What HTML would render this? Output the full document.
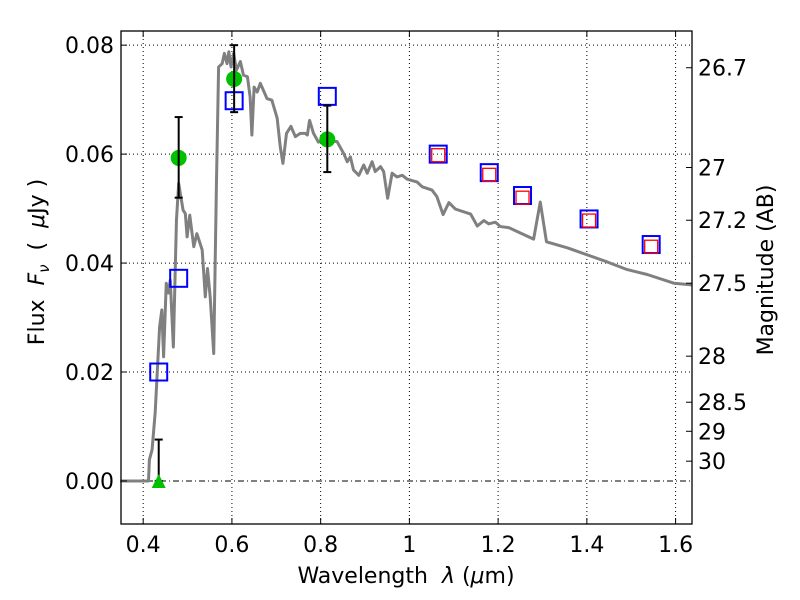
<!DOCTYPE html>
<html><head><meta charset="utf-8"><style>
html,body{margin:0;padding:0;background:#fff;}
svg{display:block;font-family:"DejaVu Sans","Liberation Sans",sans-serif;}
</style></head><body>
<svg id="chart" width="800" height="600" viewBox="0 0 800 600" xmlns="http://www.w3.org/2000/svg">
<rect width="800" height="600" fill="#fff"/>
<g id="grid"></g>
<g id="series"></g>
<g id="axes"></g>
<text x="406" y="583" font-size="22" text-anchor="middle" xml:space="preserve">Wavelength  <tspan font-style="italic">λ</tspan> (<tspan font-style="italic">μ</tspan>m)</text>
<text transform="translate(44,262) rotate(-90)" font-size="22" text-anchor="middle" xml:space="preserve">Flux  <tspan font-style="italic">F</tspan><tspan font-style="italic" font-size="15" dy="5">ν</tspan><tspan dy="-5">  (  </tspan><tspan font-style="italic">μ</tspan>Jy )</text>
<text transform="translate(773,270) rotate(-90)" font-size="22" text-anchor="middle">Magnitude (AB)</text>
</svg>
<script>
const specWave=[0.348,0.412,0.414,0.420,0.427,0.437,0.442,0.446,0.452,0.457,0.461,0.468,0.475,0.480,0.490,0.495,0.499,0.505,0.514,0.521,0.533,0.540,0.545,0.551,0.559,0.565,0.570,0.578,0.583,0.589,0.593,0.598,0.604,0.610,0.619,0.626,0.635,0.641,0.645,0.650,0.657,0.664,0.671,0.679,0.690,0.702,0.709,0.715,0.723,0.733,0.743,0.754,0.765,0.770,0.775,0.784,0.795,0.807,0.837,0.852,0.860,0.867,0.874,0.886,0.897,0.905,0.916,0.923,0.935,0.942,0.951,0.961,0.972,0.984,0.995,1.017,1.029,1.051,1.062,1.076,1.089,1.104,1.138,1.153,1.168,1.179,1.194,1.205,1.224,1.280,1.295,1.309,1.356,1.401,1.446,1.491,1.536,1.596,1.637];
const specFlux=[0,0,0.0039,0.0057,0.0125,0.0283,0.0314,0.0228,0.0363,0.0345,0.0369,0.0246,0.0479,0.0546,0.0497,0.0491,0.0448,0.0488,0.0430,0.0454,0.0424,0.0338,0.0390,0.0338,0.0234,0.054,0.0760,0.0766,0.0785,0.0766,0.0788,0.0760,0.0785,0.0754,0.0770,0.0745,0.0742,0.0705,0.0635,0.0723,0.0714,0.0730,0.0717,0.0702,0.0699,0.0666,0.0613,0.0583,0.0638,0.0651,0.0632,0.0638,0.0638,0.0635,0.0662,0.0638,0.0622,0.0626,0.0623,0.0601,0.0586,0.0595,0.0571,0.0561,0.0580,0.0565,0.0586,0.0568,0.0577,0.0568,0.0519,0.0565,0.0558,0.0561,0.0554,0.0549,0.0540,0.0534,0.0522,0.0489,0.0511,0.0499,0.0490,0.0468,0.0478,0.0472,0.0475,0.0467,0.0465,0.0444,0.0512,0.0439,0.0428,0.0415,0.0402,0.0388,0.0379,0.0363,0.0360];
const obsWave=[0.48,0.605,0.815];
const obsFlux=[0.0593,0.0738,0.0627];
const obsLo=[0.0520,0.0677,0.0567];
const obsHi=[0.0668,0.0800,0.0689];
const limWave=[0.435];
const limFlux=[0.0];
const limHi=[0.0076];
const blueWave=[0.435,0.48,0.605,0.815,1.065,1.18,1.255,1.405,1.545];
const blueFlux=[0.020,0.0372,0.0698,0.0706,0.0600,0.0566,0.0524,0.0481,0.0434];
const redWave=[1.065,1.18,1.255,1.405,1.545];
const redFlux=[0.0598,0.0562,0.0520,0.0478,0.0430];
const xTicks=[0.4,0.6,0.8,1.0,1.2,1.4,1.6];
const xTickLabels=["0.4","0.6","0.8","1","1.2","1.4","1.6"];
const yTicks=[0,0.02,0.04,0.06,0.08];
const yTickLabels=["0.00","0.02","0.04","0.06","0.08"];
const magTicks=[26.7,27,27.2,27.5,28,28.5,29,30];
const magTickLabels=["26.7","27","27.2","27.5","28","28.5","29","30"];

const L=121,R=692,T=31,B=524,XMIN=0.35,XMAX=1.637,YMIN=-0.0079,YMAX=0.0826;
const NS="http://www.w3.org/2000/svg";
function sx(v){return L+(v-XMIN)/(XMAX-XMIN)*(R-L);}
function sy(v){return B-(v-YMIN)/(YMAX-YMIN)*(B-T);}
function magToFlux(m){return Math.pow(10,-(m-23.9)/2.5);}
function mk(tag,attrs,parent){const e=document.createElementNS(NS,tag);for(const k in attrs)e.setAttribute(k,attrs[k]);parent.appendChild(e);return e;}
const grid=document.getElementById('grid'),series=document.getElementById('series'),axes=document.getElementById('axes');

xTicks.forEach((t,i)=>{
  const x=sx(t);
  const g=mk('line',{x1:x,x2:x,y1:T,y2:B,stroke:'#000','stroke-width':1,'stroke-dasharray':'1,3'},grid);
  
  
  const tk=mk('line',{x1:x,x2:x,y1:B,y2:B-6,stroke:'#000','stroke-width':1},axes);
  
  
  const tk2=mk('line',{x1:x,x2:x,y1:T,y2:T+6,stroke:'#000','stroke-width':1},axes);
  
  
  const lb=mk('text',{x:x,y:B+28,'font-size':22,'text-anchor':'middle'},axes);
  lb.textContent=xTickLabels[i];
  
  
});
yTicks.forEach((t,i)=>{
  const y=sy(t);
  const g=mk('line',{x1:L,x2:R,y1:y,y2:y,stroke:'#000','stroke-width':1,'stroke-dasharray':t===0?'6,3,1,3':'1,3'},grid);
  
  
  const tk=mk('line',{x1:L,x2:L+6,y1:y,y2:y,stroke:'#000','stroke-width':1},axes);
  
  
  const lb=mk('text',{x:L-7,y:y+8,'font-size':22,'text-anchor':'end'},axes);
  lb.textContent=yTickLabels[i];
  
  
});
magTicks.forEach((m,i)=>{
  const y=sy(magToFlux(m));
  const tk=mk('line',{x1:R-6,x2:R,y1:y,y2:y,stroke:'#000','stroke-width':1},axes);
  
  
  const lb=mk('text',{x:R+6,y:y+8,'font-size':22,'text-anchor':'start'},axes);
  lb.textContent=magTickLabels[i];
  
  
});
const frame=mk('rect',{x:L,y:T,width:R-L,height:B-T,fill:'none',stroke:'#000','stroke-width':1.3},axes);



const sp=mk('polyline',{points:specWave.map((w,i)=>sx(w)+','+sy(specFlux[i])).join(' '),fill:'none',stroke:'#808080','stroke-width':3,'stroke-linejoin':'round'},series);



blueWave.forEach((w,i)=>{
  const x=sx(w),y=sy(blueFlux[i]);
  const r=mk('rect',{x:x-8.5,y:y-8.5,width:17,height:17,fill:'none',stroke:'#0000ff','stroke-width':2},series);
  
  
});
redWave.forEach((w,i)=>{
  const x=sx(w),y=sy(redFlux[i]);
  const r=mk('rect',{x:x-6.5,y:y-6.5,width:13,height:13,fill:'none',stroke:'#ff0000','stroke-width':1.3},series);
  
  
});
function errbar(x,ylo,yhi,name){
  const g=mk('g',{},series);
  
  
  mk('line',{x1:x,x2:x,y1:ylo,y2:yhi,stroke:'#000','stroke-width':2},g);
  mk('line',{x1:x-4,x2:x+4,y1:ylo,y2:ylo,stroke:'#000','stroke-width':2},g);
  mk('line',{x1:x-4,x2:x+4,y1:yhi,y2:yhi,stroke:'#000','stroke-width':2},g);
}
limWave.forEach((w,i)=>{
  const x=sx(w),y=sy(limFlux[i]);
  errbar(x,y,sy(limHi[i]),'upper-limit-errorbar');
  const p=mk('polygon',{points:`${x},${y-7} ${x-7},${y+7} ${x+7},${y+7}`,fill:'#00c000'},series);
  
  
});
obsWave.forEach((w,i)=>{
  const x=sx(w),y=sy(obsFlux[i]);
  const c=mk('circle',{cx:x,cy:y,r:8,fill:'#00c000'},series);
  
  
  errbar(x,sy(obsLo[i]),sy(obsHi[i]),'observed-errorbar');
});
</script>
</body></html>
